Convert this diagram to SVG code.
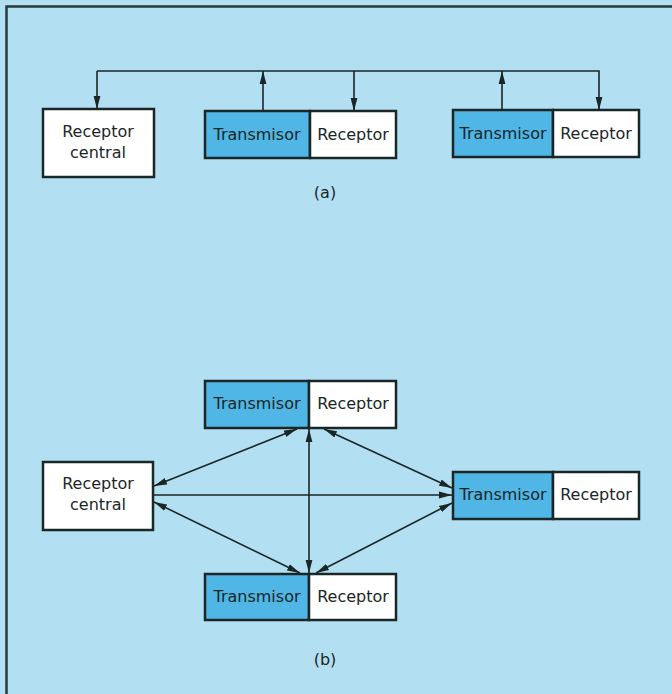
<svg xmlns="http://www.w3.org/2000/svg" width="672" height="694" viewBox="0 0 672 694">
<style>
.bx{stroke:#1b2626;stroke-width:2.5}
.w{fill:#ffffff}
.t{fill:#4fb6e6}
.ln{fill:none;stroke:#1b2626;stroke-width:1.6}
text{font-family:"DejaVu Sans","Liberation Sans",sans-serif;font-size:16px;fill:#1b2626;text-anchor:middle}
</style>
<defs>
<marker id="ah" viewBox="0 0 13 8" refX="13" refY="4" markerWidth="13" markerHeight="8" markerUnits="userSpaceOnUse" orient="auto-start-reverse">
<path d="M0,0.6 L13,4 L0,7.4 Z" fill="#1b2626"/>
</marker>
</defs>
<rect x="0" y="0" width="672" height="694" fill="#b3dff2"/>
<path d="M6.5,694 V6.5 H672" fill="none" stroke="#2a3a3a" stroke-width="2.5"/>

<g id="connectors">
<path class="ln" d="M97,71 H599 V110" marker-end="url(#ah)"/>
<path class="ln" d="M97,71 V109" marker-end="url(#ah)"/>
<path class="ln" d="M263,111 V71" marker-end="url(#ah)"/>
<path class="ln" d="M354,71 V111" marker-end="url(#ah)"/>
<path class="ln" d="M502,110 V71" marker-end="url(#ah)"/>
<path class="ln" d="M309,429 V573" marker-start="url(#ah)" marker-end="url(#ah)"/>
<path class="ln" d="M154,486 L297,429" marker-start="url(#ah)" marker-end="url(#ah)"/>
<path class="ln" d="M154,502 L300,573" marker-start="url(#ah)" marker-end="url(#ah)"/>
<path class="ln" d="M154,495 H452" marker-end="url(#ah)"/>
<path class="ln" d="M324,429 L452,488" marker-start="url(#ah)" marker-end="url(#ah)"/>
<path class="ln" d="M316,573 L452,503" marker-start="url(#ah)" marker-end="url(#ah)"/>
</g>

<g id="a-central">
<rect class="bx w" x="43" y="109" width="111" height="68"/>
<text x="98" y="137">Receptor</text>
<text x="98" y="158">central</text>
</g>
<g id="a-node1">
<rect class="bx t" x="205" y="111" width="105" height="47"/>
<rect class="bx w" x="310" y="111" width="86" height="47"/>
<text x="257" y="140">Transmisor</text>
<text x="353" y="140">Receptor</text>
</g>
<g id="a-node2">
<rect class="bx t" x="453" y="110" width="100" height="47"/>
<rect class="bx w" x="553" y="110" width="86" height="47"/>
<text x="503" y="139">Transmisor</text>
<text x="596" y="139">Receptor</text>
</g>
<text x="325" y="198">(a)</text>

<g id="b-top">
<rect class="bx t" x="205" y="381" width="104" height="47"/>
<rect class="bx w" x="309" y="381" width="87" height="47"/>
<text x="257" y="409">Transmisor</text>
<text x="353" y="409">Receptor</text>
</g>
<g id="b-central">
<rect class="bx w" x="43" y="462" width="110" height="68"/>
<text x="98" y="489">Receptor</text>
<text x="98" y="510">central</text>
</g>
<g id="b-right">
<rect class="bx t" x="453" y="472" width="100" height="47"/>
<rect class="bx w" x="553" y="472" width="86" height="47"/>
<text x="503" y="500">Transmisor</text>
<text x="596" y="500">Receptor</text>
</g>
<g id="b-bottom">
<rect class="bx t" x="205" y="574" width="104" height="46"/>
<rect class="bx w" x="309" y="574" width="87" height="46"/>
<text x="257" y="602">Transmisor</text>
<text x="353" y="602">Receptor</text>
</g>
<text x="325" y="665">(b)</text>
</svg>
